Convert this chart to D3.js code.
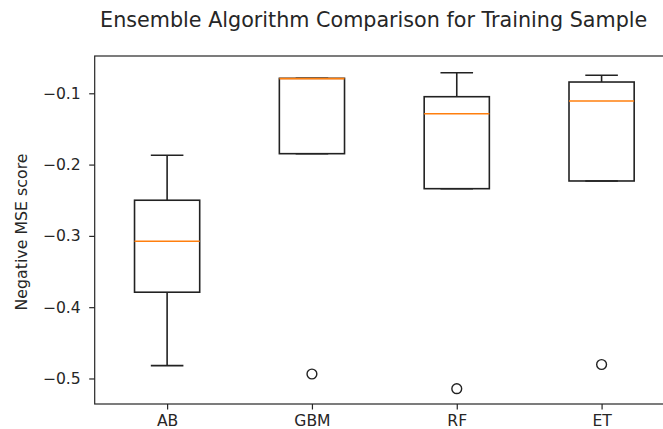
<!DOCTYPE html>
<html>
<head>
<meta charset="utf-8">
<script src="https://cdn.jsdelivr.net/npm/d3@7"></script>
<style>
  body { margin: 0; background: #fff; }
  text { font-family: "DejaVu Sans", sans-serif; fill: #262626; }
</style>
</head>
<body>
<svg id="chart" width="663" height="429"></svg>
<script>
// values
const categories = ['AB', 'GBM', 'RF', 'ET']
const whiskerLow = [-0.482, -0.1847, -0.2338, -0.223]
const q1 = [-0.379, -0.1847, -0.2338, -0.223]
const median = [-0.3076, -0.0795, -0.1286, -0.1108]
const q3 = [-0.250, -0.079, -0.1048, -0.0842]
const whiskerHigh = [-0.187, -0.079, -0.0711, -0.0748]
const outliers = [[], [-0.4937], [-0.5143], [-0.4804]]
const yTicks = [-0.1, -0.2, -0.3, -0.4, -0.5]

const margin = { top: 56, left: 94.7 }
const width = 674 - margin.left
const height = 404 - margin.top

const svg = d3.select('#chart')
const g = svg.append('g').attr('transform', `translate(${margin.left}, ${margin.top})`)

const xScale = d3.scaleLinear().domain([0.5, 4.5]).range([0, width])
const yScale = d3.scaleLinear().domain([-0.5358, -0.0477]).range([height, 0])
const boxW = xScale(1.45) - xScale(1)

const stats = categories.map((name, i) => ({
  name,
  pos: i + 1,
  lo: whiskerLow[i],
  q1: q1[i],
  med: median[i],
  q3: q3[i],
  hi: whiskerHigh[i],
  fliers: outliers[i]
}))

const fmt = (v) => d3.format('.1f')(v).replace('-', '\u2212')

// axes
const yAxis = g.append('g')
  .call(d3.axisLeft(yScale).tickValues(yTicks).tickFormat(fmt).tickSize(5.5).tickPadding(8.5))
const xAxis = g.append('g')
  .attr('transform', `translate(0, ${height})`)
  .call(d3.axisBottom(xScale).tickValues(stats.map((d) => d.pos)).tickFormat((d, i) => categories[i]).tickSize(5.5).tickPadding(5.5))

;[yAxis, xAxis].forEach((a) => {
  a.select('.domain').remove()
  a.selectAll('line').attr('stroke', '#262626').attr('stroke-width', 1.2)
  a.selectAll('text').style('font-size', '15.6px').style('fill', '#262626')
})

const stroke = '#222'
const boxes = g.selectAll('.box').data(stats).enter().append('g').attr('class', 'box')

boxes.append('line')
  .attr('x1', (d) => xScale(d.pos)).attr('x2', (d) => xScale(d.pos))
  .attr('y1', (d) => yScale(d.q3)).attr('y2', (d) => yScale(d.hi))
  .attr('stroke', stroke).attr('stroke-width', 1.6)
boxes.append('line')
  .attr('x1', (d) => xScale(d.pos)).attr('x2', (d) => xScale(d.pos))
  .attr('y1', (d) => yScale(d.q1)).attr('y2', (d) => yScale(d.lo))
  .attr('stroke', stroke).attr('stroke-width', 1.6)
boxes.append('line')
  .attr('x1', (d) => xScale(d.pos) - boxW / 4).attr('x2', (d) => xScale(d.pos) + boxW / 4)
  .attr('y1', (d) => yScale(d.hi)).attr('y2', (d) => yScale(d.hi))
  .attr('stroke', stroke).attr('stroke-width', 1.6)
boxes.append('line')
  .attr('x1', (d) => xScale(d.pos) - boxW / 4).attr('x2', (d) => xScale(d.pos) + boxW / 4)
  .attr('y1', (d) => yScale(d.lo)).attr('y2', (d) => yScale(d.lo))
  .attr('stroke', stroke).attr('stroke-width', 1.6)
boxes.append('rect')
  .attr('x', (d) => xScale(d.pos) - boxW / 2)
  .attr('width', boxW)
  .attr('y', (d) => yScale(d.q3))
  .attr('height', (d) => yScale(d.q1) - yScale(d.q3))
  .attr('fill', 'none').attr('stroke', stroke).attr('stroke-width', 1.6)
boxes.append('line')
  .attr('x1', (d) => xScale(d.pos) - boxW / 2).attr('x2', (d) => xScale(d.pos) + boxW / 2)
  .attr('y1', (d) => yScale(d.med)).attr('y2', (d) => yScale(d.med))
  .attr('stroke', '#ff7f0e').attr('stroke-width', 1.6)
boxes.selectAll('circle')
  .data((d) => d.fliers.map((v) => ({ pos: d.pos, v })))
  .enter().append('circle')
  .attr('cx', (d) => xScale(d.pos)).attr('cy', (d) => yScale(d.v))
  .attr('r', 4.9)
  .attr('fill', 'none').attr('stroke', stroke).attr('stroke-width', 1.4)

// frame
g.append('rect')
  .attr('width', width).attr('height', height)
  .attr('fill', 'none').attr('stroke', '#262626').attr('stroke-width', 1.2)

svg.append('text')
  .attr('x', 373.7)
  .attr('y', 27)
  .attr('text-anchor', 'middle')
  .style('font-size', '20.7px')
  .text('Ensemble Algorithm Comparison for Training Sample')

svg.append('text')
  .attr('transform', `translate(26.5, 232) rotate(-90)`)
  .attr('text-anchor', 'middle')
  .style('font-size', '15.8px')
  .text('Negative MSE score')
</script>
</body>
</html>
